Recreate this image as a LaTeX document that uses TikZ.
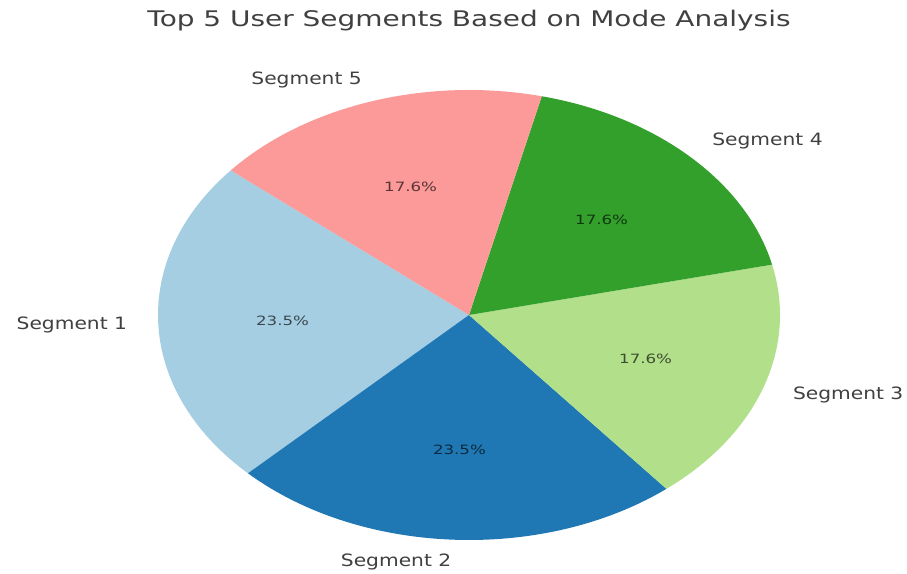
\documentclass[tikz,border=0pt]{standalone}
\usepackage{fontspec}
\usetikzlibrary{calc}
\newfontfamily\widefont[FakeStretch=1.3]{DejaVu Sans}
\newfontfamily\labelfont[FakeStretch=1.19]{DejaVu Sans}
\definecolor{segA}{HTML}{A6CEE3}
\definecolor{segB}{HTML}{1F78B4}
\definecolor{segC}{HTML}{B2DF8A}
\definecolor{segD}{HTML}{33A02C}
\definecolor{segE}{HTML}{FB9A99}
\definecolor{labelgray}{HTML}{404040}
\begin{document}
\begin{tikzpicture}[x=1pt,y=1pt,
  seglabel/.style={inner sep=0pt,text=labelgray,font=\labelfont\fontsize{17}{20}\selectfont},
  pctlabel/.style={inner sep=0pt,text=black,text opacity=0.65,font=\widefont\fontsize{12.8}{15}\selectfont},
  titlestyle/.style={inner sep=0pt,text=labelgray,font=\widefont\fontsize{21.5}{25}\selectfont},
  er/.style={x radius=311,y radius=225}]
\useasboundingbox (0,0) rectangle (907,573);
\fill[white] (0,0) rectangle (907,573);
\coordinate (c) at (469,258);
% wedges
\fill[segA] (c) -- ($(c)+(140:311 and 225)$) arc[start angle=140,end angle=224.706,er] -- cycle;
\fill[segB] (c) -- ($(c)+(224.706:311 and 225)$) arc[start angle=224.706,end angle=309.412,er] -- cycle;
\fill[segC] (c) -- ($(c)+(309.412:311 and 225)$) arc[start angle=309.412,end angle=372.941,er] -- cycle;
\fill[segD] (c) -- ($(c)+(12.941:311 and 225)$) arc[start angle=12.941,end angle=76.471,er] -- cycle;
\fill[segE] (c) -- ($(c)+(76.471:311 and 225)$) arc[start angle=76.471,end angle=140,er] -- cycle;
% labels
\node[seglabel,anchor=east] (l1) at ($(c)+(182.353:342.1 and 247.5)$) {Segment 1};
\node[seglabel,anchor=east] (l2) at ($(c)+(267.059:342.1 and 247.5)$) {Segment 2};
\node[seglabel,anchor=west] (l3) at ($(c)+(341.176:342.1 and 247.5)$) {Segment 3};
\node[seglabel,anchor=west] (l4) at ($(c)+(44.706:342.1 and 247.5)$) {Segment 4};
\node[seglabel,anchor=east] (l5) at ($(c)+(108.235:342.1 and 247.5)$) {Segment 5};
% percentages
\node[pctlabel] (p1) at ($(c)+(182.353:186.6 and 135)$) {23.5\%};
\node[pctlabel] (p2) at ($(c)+(267.059:186.6 and 135)$) {23.5\%};
\node[pctlabel] (p3) at ($(c)+(341.176:186.6 and 135)$) {17.6\%};
\node[pctlabel] (p4) at ($(c)+(44.706:186.6 and 135)$) {17.6\%};
\node[pctlabel] (p5) at ($(c)+(108.235:186.6 and 135)$) {17.6\%};
% title
\node[titlestyle,anchor=base] (title) at (469,546) {Top 5 User Segments Based on Mode Analysis};
\end{tikzpicture}
\end{document}
